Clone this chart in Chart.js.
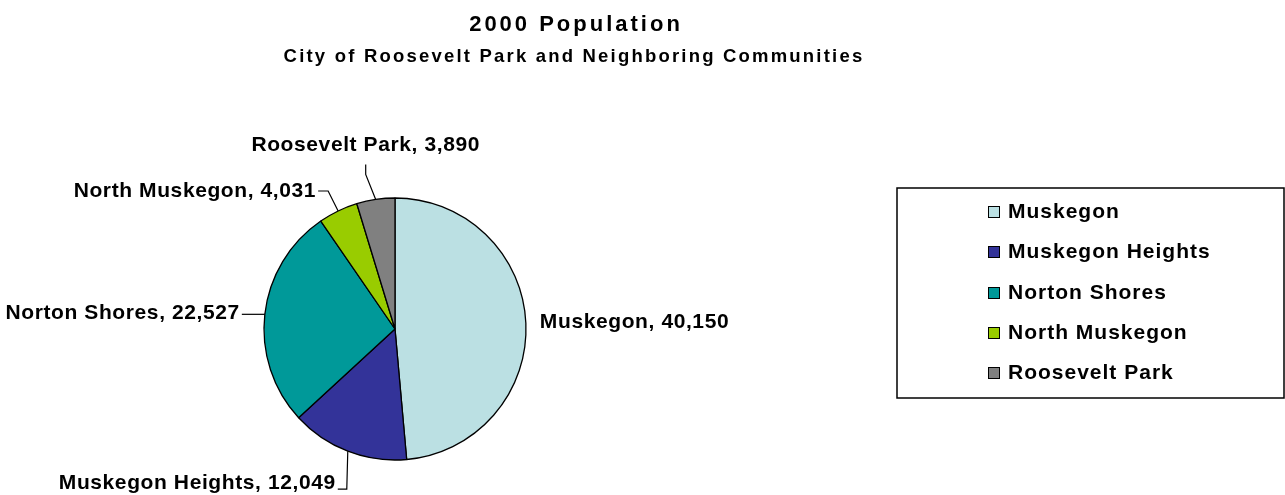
<!DOCTYPE html>
<html>
<head>
<meta charset="utf-8">
<title>2000 Population</title>
<script src="https://cdn.jsdelivr.net/npm/chart.js@4.4.1/dist/chart.umd.min.js"></script>
<style>
  html, body { margin: 0; padding: 0; background: #fff; }
  #wrap { width: 1285px; height: 495px; }
</style>
</head>
<body>
<div id="wrap"><canvas id="pop-chart" width="1285" height="495"></canvas></div>
<script>
const communities = ['Muskegon', 'Muskegon Heights', 'Norton Shores', 'North Muskegon', 'Roosevelt Park'];
const population2000 = [40150, 12049, 22527, 4031, 3890];
const sliceColors = ['#BBE0E3', '#333399', '#009999', '#99CC00', '#808080'];

const titleText = '2000 Population';
const subtitleText = 'City of Roosevelt Park and Neighboring Communities';

const FONT = '"Liberation Sans", Arial, sans-serif';

// where each callout sits relative to the point on the rim at the slice's mid angle
// leader: list of [dx, dy] steps; text: offset from the last leader point
const callouts = [
  { leader: [], text: [14, -1], align: 'left' },
  { leader: [[-1, 38], [-9, 0]], text: [-2, -6], align: 'right' },
  { leader: [[-23, 0]], text: [-2, -1], align: 'right' },
  { leader: [[-10, -20], [-10, 0]], text: [-2, 0], align: 'right' },
  { leader: [[-10, -25], [0, -10]], text: [0, -19], align: 'center' }
];

function fmt(n) {
  return n.toLocaleString('en-US');
}

const decorations = {
  id: 'decorations',
  afterDraw(chart) {
    const ctx = chart.ctx;
    ctx.save();
    ctx.fillStyle = '#000';
    ctx.strokeStyle = '#000';

    // titles
    ctx.textAlign = 'center';
    ctx.textBaseline = 'middle';
    ctx.font = 'bold 22px ' + FONT;
    ctx.letterSpacing = '3px';
    ctx.fillText(titleText, 576, 25);
    ctx.font = 'bold 18.5px ' + FONT;
    ctx.letterSpacing = '2.2px';
    ctx.fillText(subtitleText, 574, 57);

    // slice callouts
    const meta = chart.getDatasetMeta(0);
    ctx.font = 'bold 21px ' + FONT;
    ctx.letterSpacing = '0.6px';
    ctx.lineWidth = 1.2;
    meta.data.forEach((arc, i) => {
      const p = arc.getProps(['x', 'y', 'startAngle', 'endAngle', 'outerRadius'], true);
      const mid = (p.startAngle + p.endAngle) / 2;
      let x = p.x + Math.cos(mid) * p.outerRadius;
      let y = p.y + Math.sin(mid) * p.outerRadius;
      const c = callouts[i];
      if (c.leader.length) {
        ctx.beginPath();
        ctx.moveTo(x, y);
        c.leader.forEach(([dx, dy]) => {
          x += dx; y += dy;
          ctx.lineTo(x, y);
        });
        ctx.stroke();
      }
      ctx.textAlign = c.align;
      ctx.fillText(communities[i] + ', ' + fmt(population2000[i]), x + c.text[0], y + c.text[1]);
    });

    // legend box
    const box = { left: 897, top: 188, right: 1284, bottom: 398 };
    ctx.lineWidth = 1.5;
    ctx.strokeRect(box.left, box.top, box.right - box.left, box.bottom - box.top);
    ctx.textAlign = 'left';
    ctx.lineWidth = 1;
    ctx.letterSpacing = '1px';
    communities.forEach((name, i) => {
      const cy = Math.round(212 + i * 40.3);
      ctx.fillStyle = sliceColors[i];
      ctx.fillRect(988, cy - 6, 12, 12);
      ctx.strokeRect(988.5, cy - 5.5, 11, 11);
      ctx.fillStyle = '#000';
      ctx.fillText(name, 1008, cy);
    });

    ctx.restore();
  }
};

new Chart(document.getElementById('pop-chart'), {
  type: 'pie',
  data: {
    labels: communities,
    datasets: [{
      data: population2000,
      backgroundColor: sliceColors,
      borderColor: '#000',
      borderWidth: 1.3
    }]
  },
  options: {
    responsive: false,
    devicePixelRatio: 1,
    animation: false,
    radius: 131,
    layout: { padding: { left: 200, right: 695, top: 190, bottom: 27 } },
    plugins: {
      legend: { display: false },
      tooltip: { enabled: false },
      title: { display: false }
    }
  },
  plugins: [decorations]
});
</script>
</body>
</html>
